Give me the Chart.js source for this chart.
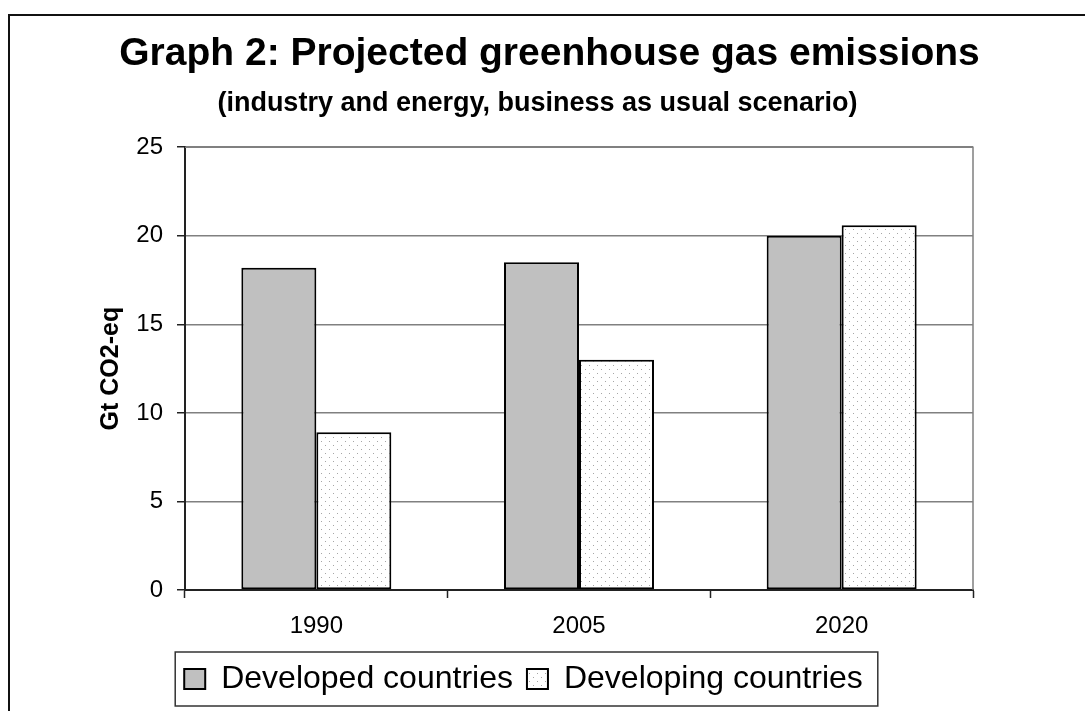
<!DOCTYPE html>
<html>
<head>
<meta charset="utf-8">
<title>Graph 2: Projected greenhouse gas emissions</title>
<script src="https://cdn.jsdelivr.net/npm/chart.js@4"></script>
<style>
  html, body { margin: 0; padding: 0; background: #fff; }
  #wrap { position: relative; width: 1085px; height: 711px; }
</style>
</head>
<body>
<div id="wrap"><canvas id="chartEmissions"></canvas></div>
<script>
// Graph 2 — projected GHG emissions, Gt CO2-eq
const YEARS = ['1990', '2005', '2020'];
const DEVELOPED = [18.2, 18.5, 20.0];
const DEVELOPING = [8.9, 13.0, 20.6];
const SERIES_NAMES = ['Developed countries', 'Developing countries'];
const Y_MIN = 0, Y_MAX = 25, Y_STEP = 5;

const TITLE = 'Graph 2: Projected greenhouse gas emissions';
const SUBTITLE = '(industry and energy, business as usual scenario)';

const INK = '#000000';
const AXIS = '#222222';
const GRID = '#808080';
const FONT = "'Liberation Sans', Arial, sans-serif";

// dotted fill like the old Excel pattern
function dotPattern() {
  const c = document.createElement('canvas');
  c.width = 8; c.height = 8;
  const g = c.getContext('2d');
  g.fillStyle = '#ffffff';
  g.fillRect(0, 0, 8, 8);
  g.fillStyle = '#a6a6a6';
  g.fillRect(1, 1, 1, 1);
  g.fillRect(5, 5, 1, 1);
  return g.createPattern(c, 'repeat');
}
const DOTS = dotPattern();

// the original is not centred on the plot: shift title / subtitle / legend a bit
const LEGEND_DX = -8;
const nudge = {
  id: 'nudge',
  afterLayout(chart) {
    chart.boxes.forEach(b => {
      const t = b.options && b.options.text;
      let dx = 0;
      if (t === TITLE) dx = 18;
      else if (t === SUBTITLE) dx = 6;
      else if (b === chart.legend) dx = LEGEND_DX;
      if (dx) { b.left += dx; b.right += dx; }
    });
    (chart.legend.legendHitBoxes || []).forEach(h => { h.left += LEGEND_DX; });
  }
};

// outer frame, plot border and the box round the legend
const frame = {
  id: 'frame',
  beforeDraw(chart) {
    const ctx = chart.ctx;
    ctx.save();
    ctx.strokeStyle = '#111';
    ctx.lineWidth = 2;
    ctx.strokeRect(9, 15, 1200, 1000);
    ctx.restore();
  },
  beforeDatasetsDraw(chart) {
    const { ctx, chartArea: a } = chart;
    ctx.save();
    ctx.strokeStyle = GRID;
    ctx.lineWidth = 1.5;
    ctx.beginPath();
    ctx.moveTo(a.left, a.top);
    ctx.lineTo(a.right, a.top);
    ctx.lineTo(a.right, a.bottom);
    ctx.stroke();
    ctx.restore();
  },
  afterDraw(chart) {
    const hb = chart.legend.legendHitBoxes;
    if (!hb || !hb.length) return;
    const last = hb[hb.length - 1];
    const cy = hb[0].top + hb[0].height / 2;
    const x0 = hb[0].left - 9;
    const x1 = last.left + last.width + 15;
    const ctx = chart.ctx;
    ctx.save();
    ctx.strokeStyle = '#333';
    ctx.lineWidth = 1.5;
    ctx.strokeRect(x0, cy - 27, x1 - x0, 54);
    ctx.restore();
  }
};

new Chart(document.getElementById('chartEmissions'), {
  type: 'bar',
  data: {
    labels: YEARS,
    datasets: [
      { label: SERIES_NAMES[0], data: DEVELOPED, backgroundColor: '#c0c0c0', borderColor: INK, borderWidth: 2, borderSkipped: false },
      { label: SERIES_NAMES[1], data: DEVELOPING, backgroundColor: DOTS, borderColor: INK, borderWidth: 2, borderSkipped: false },
    ]
  },
  options: {
    responsive: true,
    maintainAspectRatio: false,
    animation: false,
    datasets: { bar: { barPercentage: 1.0, categoryPercentage: 0.571 } },
    layout: { padding: { left: 90, right: 112, top: 0, bottom: 6 } },
    plugins: {
      title: {
        display: true,
        text: TITLE,
        color: INK,
        font: { family: FONT, size: 39, weight: 'bold' },
        padding: { top: 31, bottom: 0 }
      },
      subtitle: {
        display: true,
        text: SUBTITLE,
        color: INK,
        font: { family: FONT, size: 27, weight: 'bold' },
        padding: { top: 10, bottom: 27 }
      },
      legend: {
        position: 'bottom',
        labels: {
          color: INK,
          font: { family: FONT, size: 32 },
          boxWidth: 21,
          boxHeight: 20,
          padding: 14
        }
      },
      tooltip: { enabled: false }
    },
    scales: {
      x: {
        grid: { offset: true, drawOnChartArea: false, tickLength: 8, tickColor: AXIS, tickWidth: 1.5 },
        border: { color: AXIS, width: 2 },
        ticks: { color: INK, font: { family: FONT, size: 24 }, padding: 14 },
        afterFit: (s) => { s.height = 59; }
      },
      y: {
        min: Y_MIN,
        max: Y_MAX,
        ticks: { stepSize: Y_STEP, color: INK, font: { family: FONT, size: 24 }, padding: 14 },
        grid: { color: GRID, lineWidth: 1.5, tickLength: 8, tickColor: AXIS, tickWidth: 1.5 },
        border: { color: AXIS, width: 2 },
        title: {
          display: true,
          text: 'Gt CO2-eq',
          color: INK,
          font: { family: FONT, size: 25, weight: 'bold' },
          padding: { top: 6, bottom: 0 }
        },
        afterFit: (s) => { s.width = 95; }
      }
    }
  },
  plugins: [nudge, frame]
});
</script>
</body>
</html>
